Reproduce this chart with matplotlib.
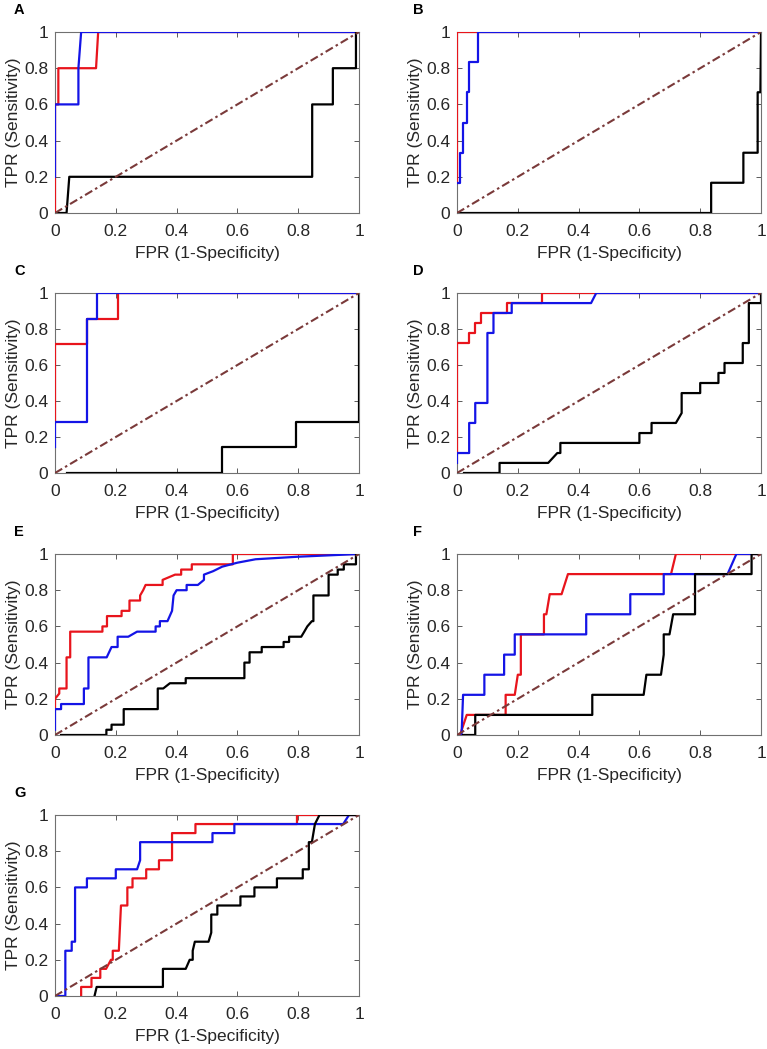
import numpy as np
import matplotlib
matplotlib.use("Agg")
import matplotlib.pyplot as plt

plt.rcParams['font.family'] = ['Liberation Sans', 'DejaVu Sans']

# --- ROC curve vertices (FPR, TPR) ---
# Panel A
A_red_x = [0, 0, 0.011, 0.011, 0.135, 0.142, 1]
A_red_y = [0, 0.6, 0.6, 0.8, 0.8, 1, 1]
A_blue_x = [0, 0, 0.077, 0.077, 0.086, 1]
A_blue_y = [0.2, 0.6, 0.6, 0.8, 1, 1]
A_black_x = [0, 0.038, 0.047, 0.846, 0.846, 0.914, 0.914, 0.99, 0.99, 1]
A_black_y = [0, 0, 0.2, 0.2, 0.6, 0.6, 0.8, 0.8, 1, 1]

# Panel B
B_red_x = [0, 0, 1]
B_red_y = [0.167, 1, 1]
B_blue_x = [0, 0.01, 0.01, 0.021, 0.021, 0.032, 0.032, 0.04, 0.04, 0.068, 0.068, 1]
B_blue_y = [0.167, 0.167, 0.333, 0.333, 0.5, 0.5, 0.667, 0.667, 0.833, 0.833, 1, 1]
B_black_x = [0, 0.836, 0.836, 0.942, 0.942, 0.989, 0.989, 0.998, 1]
B_black_y = [0, 0, 0.167, 0.167, 0.333, 0.333, 0.667, 0.667, 1]

# Panel C
C_red_x = [0, 0, 0.104, 0.104, 0.206, 0.206, 1]
C_red_y = [0.286, 0.714, 0.714, 0.857, 0.857, 1, 1]
C_blue_x = [0, 0, 0.104, 0.104, 0.138, 0.138, 1]
C_blue_y = [0.143, 0.286, 0.286, 0.857, 0.857, 1, 1]
C_black_x = [0.038, 0.55, 0.55, 0.793, 0.793, 1, 1]
C_black_y = [0, 0, 0.143, 0.143, 0.286, 0.286, 1]

# Panel D
D_red_x = [0, 0, 0.04, 0.04, 0.06, 0.06, 0.08, 0.08, 0.163, 0.163, 0.28, 0.28, 1]
D_red_y = [0.111, 0.722, 0.722, 0.778, 0.778, 0.833, 0.833, 0.889, 0.889, 0.944, 0.944, 1, 1]
D_blue_x = [0, 0, 0.04, 0.04, 0.06, 0.06, 0.1, 0.1, 0.12, 0.12, 0.18, 0.18, 0.441, 0.458, 1]
D_blue_y = [0.056, 0.111, 0.111, 0.278, 0.278, 0.389, 0.389, 0.778, 0.778, 0.889, 0.889, 0.944, 0.944, 1, 1]
D_black_x = [0.023, 0.14, 0.14, 0.3, 0.33, 0.34, 0.34, 0.6, 0.6, 0.64, 0.64, 0.72, 0.739, 0.739,
             0.8, 0.8, 0.86, 0.86, 0.88, 0.88, 0.94, 0.94, 0.96, 0.96, 1, 1]
D_black_y = [0, 0, 0.056, 0.056, 0.111, 0.111, 0.167, 0.167, 0.222, 0.222, 0.278, 0.278, 0.333, 0.444,
             0.444, 0.5, 0.5, 0.556, 0.556, 0.611, 0.611, 0.722, 0.722, 0.944, 0.944, 1]

# Panel E
E_red_x = [0, 0, 0.014, 0.014, 0.038, 0.038, 0.05, 0.05, 0.156, 0.156, 0.171, 0.171, 0.219, 0.219,
           0.245, 0.245, 0.28, 0.28, 0.29, 0.298, 0.354, 0.354, 0.395, 0.415, 0.415, 0.45, 0.45,
           0.585, 0.585, 1]
E_red_y = [0.143, 0.2, 0.229, 0.257, 0.257, 0.429, 0.429, 0.571, 0.571, 0.6, 0.6, 0.657, 0.657, 0.686,
           0.686, 0.743, 0.743, 0.771, 0.8, 0.829, 0.829, 0.857, 0.886, 0.886, 0.914, 0.914, 0.943,
           0.943, 1, 1]
E_blue_x = [0, 0, 0.02, 0.02, 0.095, 0.095, 0.11, 0.11, 0.17, 0.186, 0.206, 0.206, 0.241, 0.27,
            0.331, 0.331, 0.345, 0.345, 0.37, 0.385, 0.39, 0.4, 0.433, 0.433, 0.47, 0.49, 0.49,
            0.52, 0.55, 0.6, 0.66, 0.8, 1]
E_blue_y = [0.029, 0.143, 0.143, 0.171, 0.171, 0.257, 0.257, 0.429, 0.429, 0.486, 0.486, 0.543,
            0.543, 0.571, 0.571, 0.6, 0.6, 0.629, 0.629, 0.686, 0.771, 0.8, 0.8, 0.829, 0.829,
            0.857, 0.886, 0.905, 0.93, 0.952, 0.971, 0.985, 1]
E_black_x = [0.02, 0.169, 0.169, 0.186, 0.186, 0.226, 0.226, 0.338, 0.338, 0.356, 0.378, 0.43, 0.43,
             0.623, 0.623, 0.64, 0.64, 0.68, 0.68, 0.752, 0.752, 0.77, 0.77, 0.81, 0.82, 0.83,
             0.845, 0.85, 0.85, 0.9, 0.9, 0.93, 0.93, 0.95, 0.95, 0.99, 0.99, 1]
E_black_y = [0, 0, 0.029, 0.029, 0.057, 0.057, 0.143, 0.143, 0.257, 0.257, 0.286, 0.286, 0.314,
             0.314, 0.4, 0.4, 0.457, 0.457, 0.486, 0.486, 0.514, 0.514, 0.543, 0.543, 0.571, 0.6,
             0.629, 0.629, 0.771, 0.771, 0.886, 0.886, 0.914, 0.914, 0.943, 0.943, 1, 1]

# Panel F
F_red_x = [0.01, 0.032, 0.16, 0.16, 0.19, 0.2, 0.21, 0.21, 0.286, 0.286, 0.294, 0.305, 0.344,
           0.365, 0.704, 0.72, 1]
F_red_y = [0, 0.111, 0.111, 0.222, 0.222, 0.333, 0.333, 0.556, 0.556, 0.667, 0.667, 0.778, 0.778,
           0.889, 0.889, 1, 1]
F_blue_x = [0.015, 0.02, 0.09, 0.09, 0.155, 0.155, 0.19, 0.19, 0.425, 0.425, 0.57, 0.57, 0.68,
            0.68, 0.89, 0.919, 1]
F_blue_y = [0, 0.222, 0.222, 0.333, 0.333, 0.444, 0.444, 0.556, 0.556, 0.667, 0.667, 0.778, 0.778,
            0.889, 0.889, 1, 1]
F_black_x = [0.02, 0.06, 0.06, 0.445, 0.445, 0.614, 0.623, 0.671, 0.68, 0.68, 0.699, 0.711, 0.783,
             0.783, 0.969, 0.969, 1]
F_black_y = [0, 0, 0.111, 0.111, 0.222, 0.222, 0.333, 0.333, 0.444, 0.556, 0.556, 0.667, 0.667,
             0.889, 0.889, 1, 1]

# Panel G
G_red_x = [0.086, 0.086, 0.12, 0.12, 0.149, 0.149, 0.168, 0.184, 0.19, 0.19, 0.21, 0.217, 0.238,
           0.238, 0.255, 0.255, 0.3, 0.3, 0.342, 0.342, 0.385, 0.385, 0.462, 0.462, 0.796, 0.796, 1]
G_red_y = [0, 0.05, 0.05, 0.1, 0.1, 0.15, 0.15, 0.2, 0.2, 0.25, 0.25, 0.5, 0.5, 0.6, 0.6, 0.65,
           0.65, 0.7, 0.7, 0.75, 0.75, 0.9, 0.9, 0.95, 0.95, 1, 1]
G_blue_x = [0.01, 0.034, 0.034, 0.055, 0.055, 0.066, 0.066, 0.105, 0.105, 0.2, 0.2, 0.27, 0.28,
            0.28, 0.518, 0.518, 0.59, 0.59, 0.948, 0.967, 1]
G_blue_y = [0, 0, 0.25, 0.25, 0.3, 0.3, 0.6, 0.6, 0.65, 0.65, 0.7, 0.7, 0.75, 0.85, 0.85, 0.9,
            0.9, 0.95, 0.95, 1, 1]
G_black_x = [0.13, 0.137, 0.355, 0.355, 0.43, 0.443, 0.453, 0.453, 0.46, 0.505, 0.514, 0.514,
             0.534, 0.534, 0.61, 0.61, 0.656, 0.656, 0.73, 0.73, 0.815, 0.815, 0.835, 0.835,
             0.845, 0.85, 0.855, 0.87, 1]
G_black_y = [0, 0.05, 0.05, 0.15, 0.15, 0.2, 0.2, 0.25, 0.3, 0.3, 0.35, 0.45, 0.45, 0.5, 0.5,
             0.55, 0.55, 0.6, 0.6, 0.65, 0.65, 0.7, 0.7, 0.85, 0.85, 0.9, 0.95, 1, 1]

panels = [
    ("A", A_red_x, A_red_y, A_blue_x, A_blue_y, A_black_x, A_black_y),
    ("B", B_red_x, B_red_y, B_blue_x, B_blue_y, B_black_x, B_black_y),
    ("C", C_red_x, C_red_y, C_blue_x, C_blue_y, C_black_x, C_black_y),
    ("D", D_red_x, D_red_y, D_blue_x, D_blue_y, D_black_x, D_black_y),
    ("E", E_red_x, E_red_y, E_blue_x, E_blue_y, E_black_x, E_black_y),
    ("F", F_red_x, F_red_y, F_blue_x, F_blue_y, F_black_x, F_black_y),
    ("G", G_red_x, G_red_y, G_blue_x, G_blue_y, G_black_x, G_black_y),
]

W, H = 767, 1049
fig = plt.figure(figsize=(W / 100, H / 100), dpi=100)

# axes boxes in pixels: (left, right) per column, (top, bottom) per row
col_x = [(55, 359), (457, 761)]
row_y = [(32, 213), (293, 473), (554, 735), (815, 996)]

ticks = [0, 0.2, 0.4, 0.6, 0.8, 1]
tick_lbl = ["0", "0.2", "0.4", "0.6", "0.8", "1"]
txt_col = "#262626"

for i, (lab, rx, ry, bx, by, kx, ky) in enumerate(panels):
    r, c = divmod(i, 2)
    x0, x1 = col_x[c]
    y0, y1 = row_y[r]
    ax = fig.add_axes([x0 / W, 1 - y1 / H, (x1 - x0) / W, (y1 - y0) / H])

    ax.plot(rx, ry, color="#e8141c", lw=1.6, zorder=3)
    ax.plot(bx, by, color="#1414e6", lw=1.6, zorder=4)
    ax.plot(kx, ky, color="black", lw=1.6, zorder=5)
    ax.plot([0, 1], [0, 1], color="#7a3a3a", lw=1.5,
            linestyle=(0, (4, 1.6, 1.2, 1.6)), zorder=6)

    ax.set_xlim(0, 1)
    ax.set_ylim(0, 1)
    ax.set_xticks(ticks)
    ax.set_xticklabels(tick_lbl)
    ax.set_yticks(ticks)
    ax.set_yticklabels(tick_lbl)
    ax.tick_params(direction="in", length=3.5, width=0.6, top=True, right=True,
                   labelsize=12.5, colors="#404040", labelcolor=txt_col, pad=5)
    ax.tick_params(axis="x", pad=8)
    for sp in ax.spines.values():
        sp.set_color("#707070")
        sp.set_linewidth(0.8)
    ax.set_xlabel("FPR (1-Specificity)", fontsize=12.5, color=txt_col, labelpad=5)
    ax.set_ylabel("TPR (Sensitivity)", fontsize=12.5, color=txt_col, labelpad=2)

    lx = 14 if c == 0 else 413
    ly = y0 - 22
    fig.text(lx / W, 1 - ly / H, lab, fontsize=10.5, fontweight="bold",
             ha="left", va="center", color="black")

fig.savefig("out.png", dpi=100)
